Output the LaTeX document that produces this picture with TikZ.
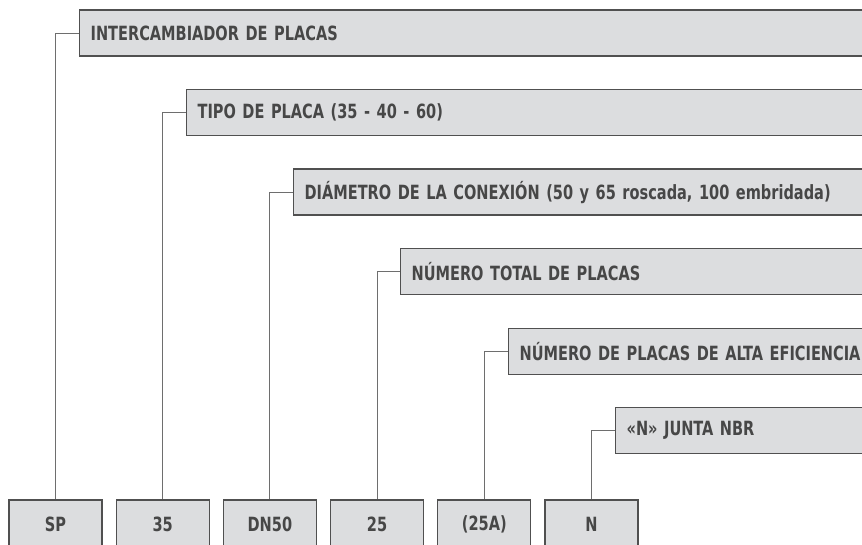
\documentclass[tikz,border=0pt]{standalone}
\usepackage{fontspec}
\newfontfamily\condbold{DejaVu Sans Condensed}[FakeStretch=0.825]
\usetikzlibrary{positioning}

\definecolor{boxfill}{HTML}{DCDDDF}
\definecolor{boxline}{HTML}{505050}
\definecolor{inkgray}{HTML}{474747}
\definecolor{wiregray}{HTML}{6E6E6E}

\begin{document}
\begin{tikzpicture}[
  x=1pt,y=-1pt,
  node distance=13pt,
  labelbox/.style={draw=boxline,line width=1.2pt,fill=boxfill,text=inkgray,
    font=\condbold\bfseries\fontsize{19.6}{22}\selectfont,anchor=north west,
    minimum height=46pt,inner xsep=11pt,text width=780pt,align=left},
  codebox/.style={draw=boxline,line width=1.2pt,fill=boxfill,text=inkgray,
    font=\condbold\bfseries\fontsize{19.6}{22}\selectfont,
    minimum width=93pt,minimum height=48pt},
  link/.style={draw=wiregray,line width=1pt}
]
  \useasboundingbox (0,0) rectangle (862,545);
  \clip (0,0) rectangle (862,545);

  % codigo
  \node[codebox] (sp) at (55.5,524) {SP};
  \node[codebox,right=of sp] (tipo) {35};
  \node[codebox,right=of tipo] (dn) {DN50};
  \node[codebox,right=of dn] (total) {25};
  \node[codebox,right=of total] (alta) {(25A)};
  \node[codebox,right=of alta] (junta) {N};

  % descripciones
  \node[labelbox] (intercambiador) at (79,9.5) {INTERCAMBIADOR DE PLACAS};
  \node[labelbox] (placa) at (186,89) {TIPO DE PLACA (35 - 40 - 60)};
  \node[labelbox] (diametro) at (293,168.5) {DIÁMETRO DE LA CONEXIÓN (50 y 65 roscada, 100 embridada)};
  \node[labelbox] (numtotal) at (400,248) {NÚMERO TOTAL DE PLACAS};
  \node[labelbox] (numalta) at (508,328) {NÚMERO DE PLACAS DE ALTA EFICIENCIA};
  \node[labelbox] (nbr) at (615,407) {«N» JUNTA NBR};

  \draw[link] (intercambiador.west) -| (sp.north);
  \draw[link] (placa.west) -| (tipo.north);
  \draw[link] (diametro.west) -| (dn.north);
  \draw[link] (numtotal.west) -| (total.north);
  \draw[link] (numalta.west) -| (alta.north);
  \draw[link] (nbr.west) -| (junta.north);
\end{tikzpicture}
\end{document}
